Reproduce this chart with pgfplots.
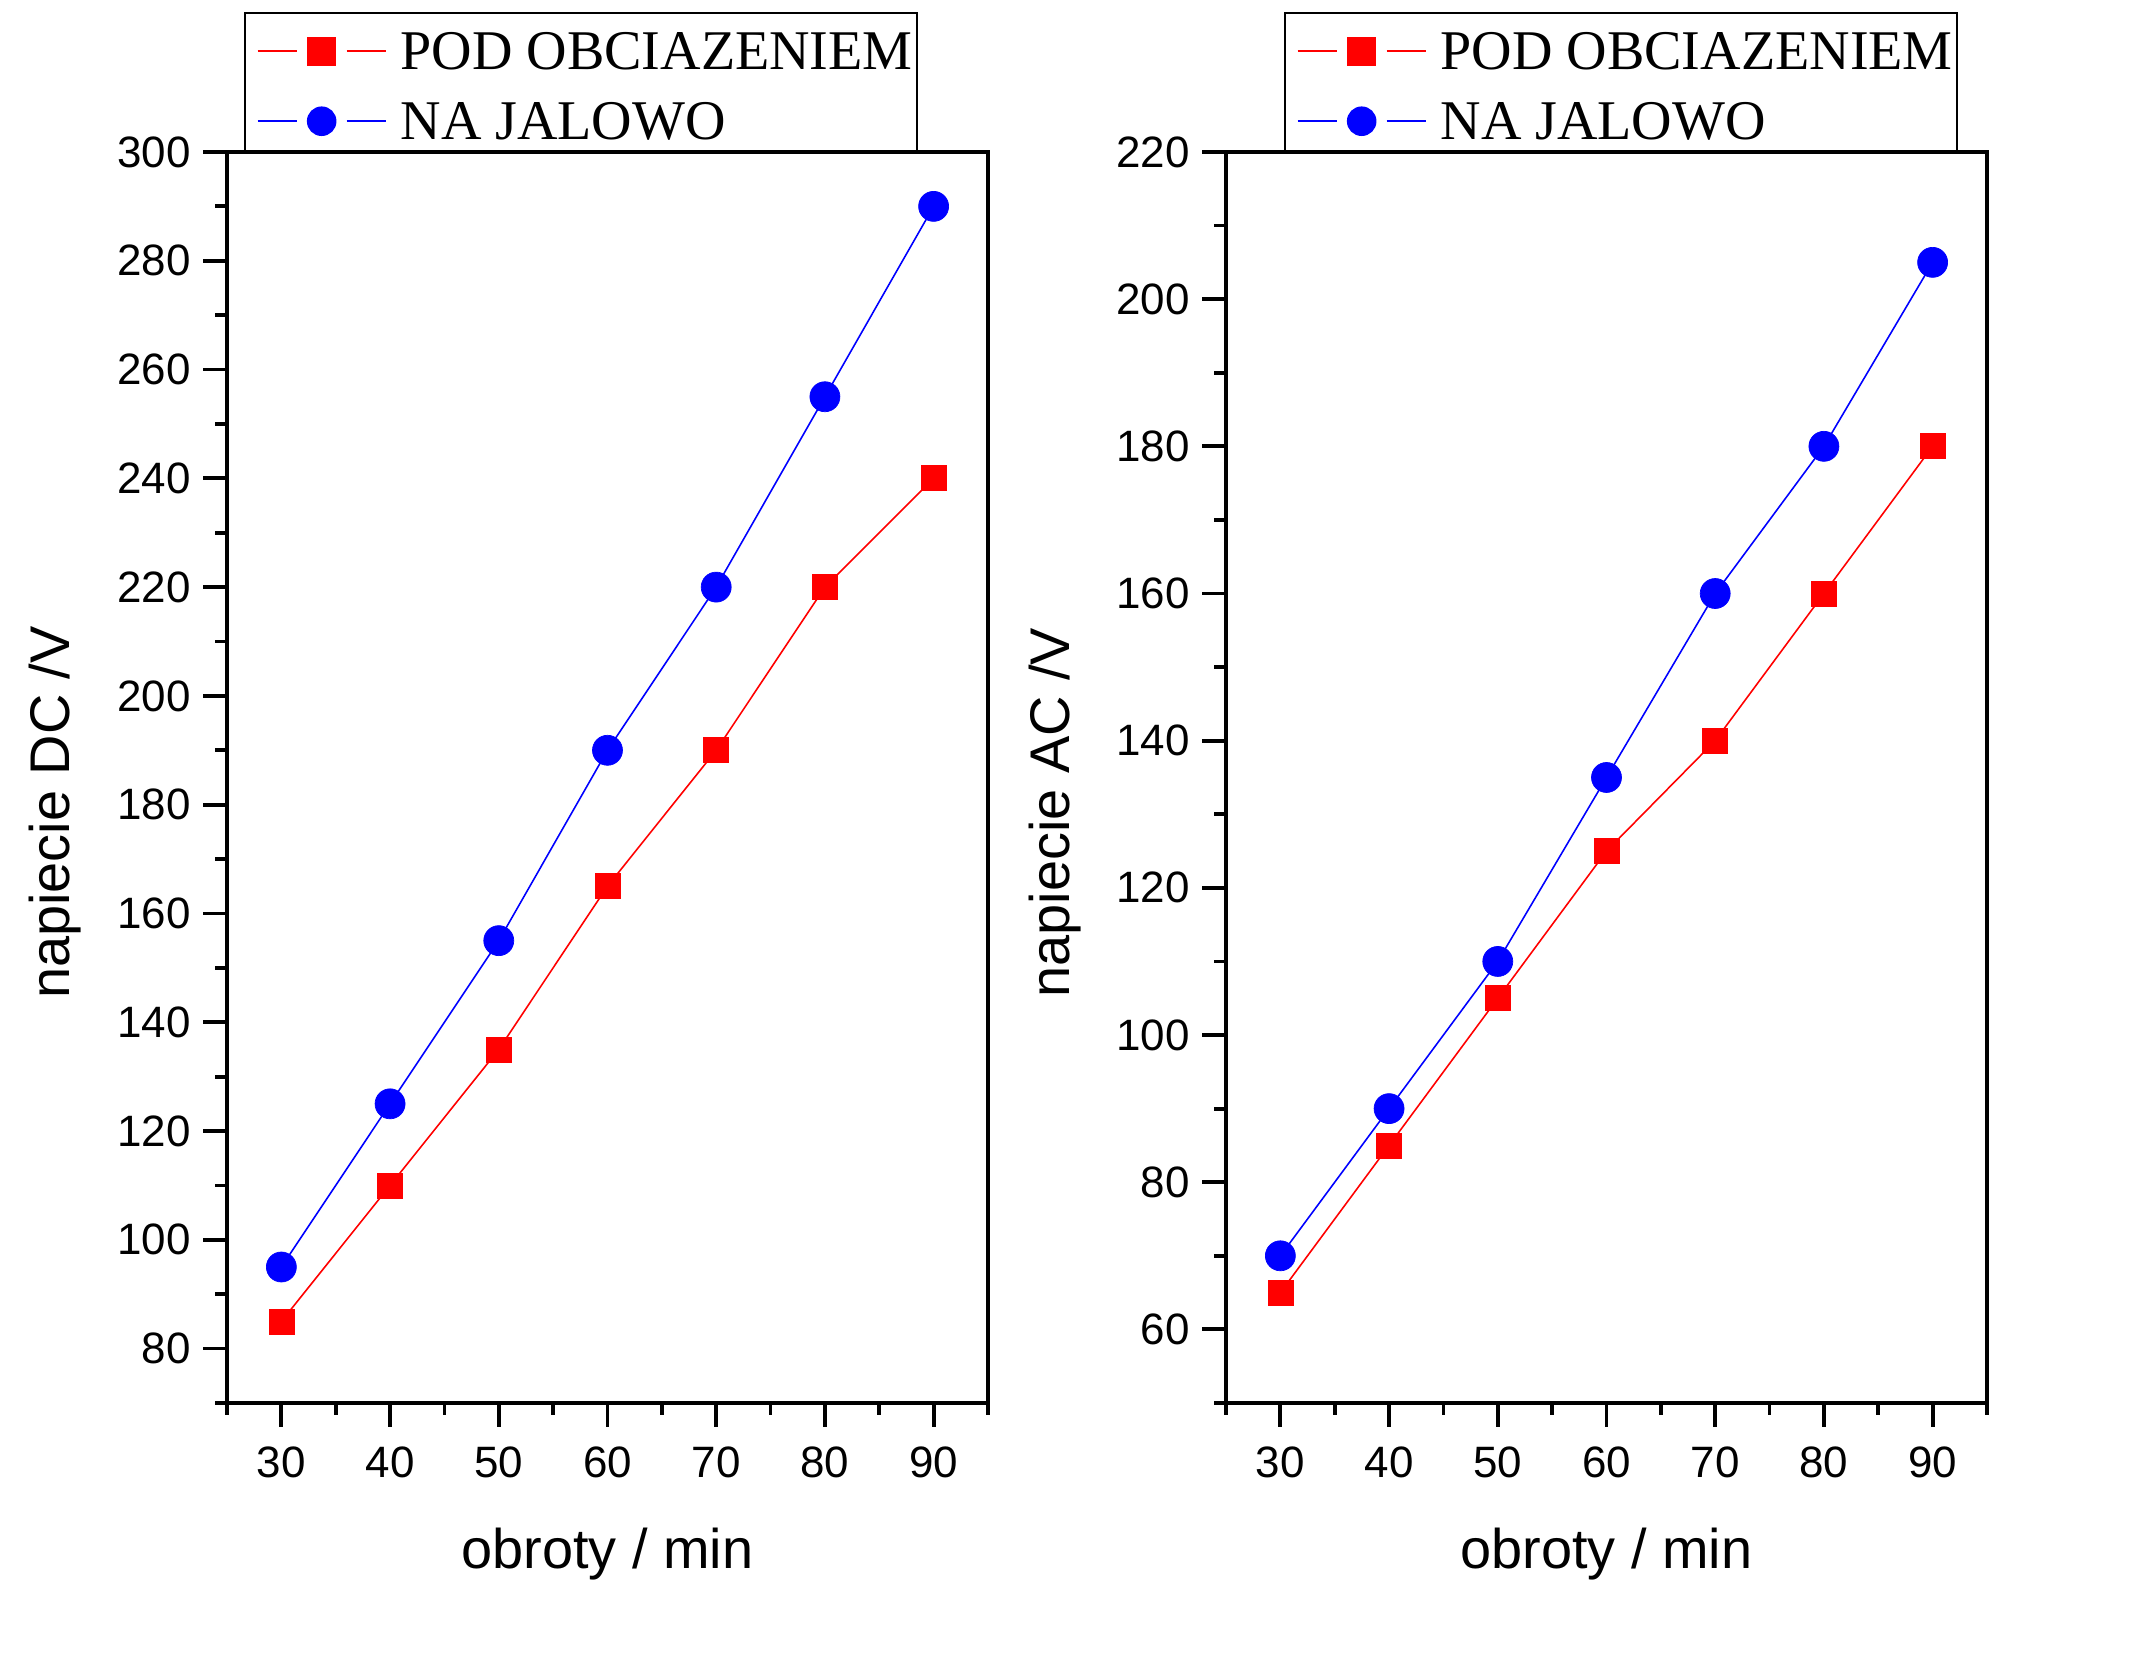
\documentclass[border=0pt]{standalone}
\usepackage{fontspec}
\setmainfont{Liberation Sans}
\newfontfamily\legfont{Liberation Serif}
\usepackage{pgfplots}
\pgfplotsset{compat=1.18}
\definecolor{myred}{RGB}{255,0,0}
\definecolor{myblue}{RGB}{0,0,255}
\pgfplotsset{
  mystyle/.style={
    scale only axis, width=76.1mm, height=125.1mm,
    xmin=25, xmax=95,
    xtick={30,40,...,90},
    minor xtick={25,35,...,95},
    tick pos=left, tick align=outside,
    major tick length=2.4mm, minor tick length=1.2mm,
    every tick/.style={black, line width=0.38mm},
    axis line style={line width=0.4mm},
    /pgf/number format/assume math mode=true,
    ticklabel style={font=\fontsize{12.5}{12.5}\selectfont},
    xticklabel style={yshift=-0.7mm},
    label style={font=\fontsize{15.9}{15.9}\selectfont},
    xlabel={obroty / min},
    xlabel style={at={([yshift=-16.6mm]axis description cs:0.5,0)}, anchor=base},
    ylabel style={at={([xshift=-15.7mm]axis description cs:0,0.472)}, anchor=base},
    legend style={font=\legfont\fontsize{15.95}{15.95}\selectfont, draw=black, line width=0.5pt,
      inner xsep=0.4mm, inner ysep=0.66mm, row sep=1.49mm,
      nodes={inner sep=0pt},
      cells={anchor=base west},
      /tikz/every odd column/.append style={column sep=1.4mm}},
  },
  podstyle/.style={color=myred, line width=0.45pt, mark=square*, mark size=1.25mm,
    mark options={fill=myred, draw=myred, line width=0.2pt},
    legend image code/.code={
      \path (0mm,1.8mm);
      \draw[myred, line width=0.5pt] (0.8mm,1.8mm) -- (4.7mm,1.8mm);
      \draw[myred, line width=0.5pt] (9.7mm,1.8mm) -- (13.6mm,1.8mm);
      \fill[myred] (5.85mm,0.45mm) rectangle (8.55mm,3.15mm);
    }},
  nastyle/.style={color=myblue, line width=0.45pt, mark=*, mark size=1.5mm,
    mark options={fill=myblue, draw=myblue, line width=0.2pt},
    legend image code/.code={
      \path (0mm,1.8mm);
      \draw[myblue, line width=0.5pt] (0.8mm,1.8mm) -- (4.7mm,1.8mm);
      \draw[myblue, line width=0.5pt] (9.7mm,1.8mm) -- (13.6mm,1.8mm);
      \fill[myblue] (7.2mm,1.8mm) circle (1.4mm);
    }},
}
\newcommand{\lstrut}{\rule{0pt}{4.97mm}}
\begin{document}
\begin{tikzpicture}
\useasboundingbox (0,0) rectangle (214.4mm,167.5mm);
\begin{axis}[mystyle, at={(22.7mm,27.2mm)}, anchor=south west,
  ymin=70, ymax=300, ytick={80,100,...,300}, minor ytick={70,90,...,290},
  ylabel={napiecie DC /V},
  legend style={at={([xshift=1.7mm]axis description cs:0,1)}, anchor=south west}]
\addplot[podstyle] coordinates {(30,85) (40,110) (50,135) (60,165) (70,190) (80,220) (90,240)};
\addlegendentry{\lstrut POD OBCIAZENIEM}
\addplot[nastyle] coordinates {(30,95) (40,125) (50,155) (60,190) (70,220) (80,255) (90,290)};
\addlegendentry{\lstrut NA JALOWO}
\end{axis}
\begin{axis}[mystyle, at={(122.6mm,27.2mm)}, anchor=south west,
  ymin=50, ymax=220, ytick={60,80,...,220}, minor ytick={50,70,...,210},
  ylabel={napiecie AC /V},
  legend style={at={([xshift=5.8mm]axis description cs:0,1)}, anchor=south west}]
\addplot[podstyle] coordinates {(30,65) (40,85) (50,105) (60,125) (70,140) (80,160) (90,180)};
\addlegendentry{\lstrut POD OBCIAZENIEM}
\addplot[nastyle] coordinates {(30,70) (40,90) (50,110) (60,135) (70,160) (80,180) (90,205)};
\addlegendentry{\lstrut NA JALOWO}
\end{axis}
\end{tikzpicture}
\end{document}
